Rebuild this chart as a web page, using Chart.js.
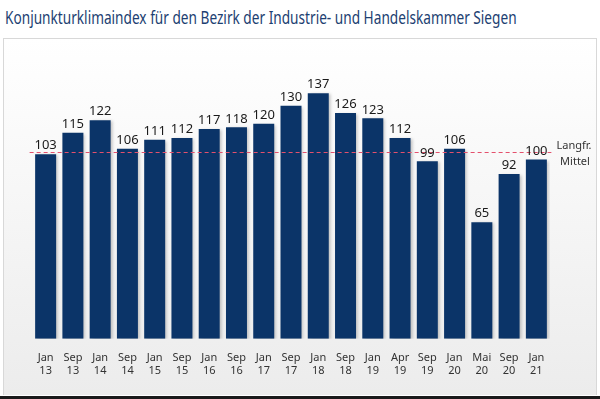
<!DOCTYPE html>
<html>
<head>
<meta charset="utf-8">
<script src="https://cdn.jsdelivr.net/npm/chart.js@4"></script>
<style>
  html, body { margin: 0; padding: 0; background: #fff; }
  #wrap { position: relative; width: 600px; height: 399px; overflow: hidden; }
  #title {
    position: absolute; left: 5px; top: 5px;
    font-family: "Noto Sans", sans-serif; font-size: 17.5px;
    color: #1d3f72; white-space: nowrap;
    transform: scaleX(0.78); transform-origin: left top;
  }
  #panel {
    position: absolute; left: 3px; top: 38px; width: 592px; height: 356px;
    border: 1px solid #d8d8d8; border-bottom: none;
    background: linear-gradient(#ffffff, #ececec);
  }
  #baseline { position: absolute; left: 0; top: 396px; width: 600px; height: 3px; background: #1a1a1a; }
  #chart { position: absolute; left: 0; top: 0; }
</style>
</head>
<body>
<div id="wrap">
  <div id="title">Konjunkturklimaindex für den Bezirk der Industrie- und Handelskammer Siegen</div>
  <div id="panel"></div>
  <div id="baseline"></div>
  <canvas id="chart" width="600" height="399"></canvas>
</div>
<script>
const months = ['Jan', 'Sep', 'Jan', 'Sep', 'Jan', 'Sep', 'Jan', 'Sep', 'Jan', 'Sep',
                'Jan', 'Sep', 'Jan', 'Apr', 'Sep', 'Jan', 'Mai', 'Sep', 'Jan'];
const years = ['13', '13', '14', '14', '15', '15', '16', '16', '17', '17',
               '18', '18', '19', '19', '19', '20', '20', '20', '21'];
const indexValues = [103, 115, 122, 106, 111, 112, 117, 118, 120, 130,
                     137, 126, 123, 112, 99, 106, 65, 92, 100];
const longTermMean = 104;

const labels = months.map((m, i) => [m, years[i]]);

// soft shadow behind the bars
const barShadow = {
    id: 'barShadow',
    beforeDatasetDraw(chart) {
        const ctx = chart.ctx;
        ctx.save();
        ctx.shadowColor = 'rgba(0,0,0,0.22)';
        ctx.shadowOffsetX = 2;
        ctx.shadowOffsetY = 1;
        ctx.shadowBlur = 3;
    },
    afterDatasetDraw(chart) {
        chart.ctx.restore();
    }
};

// labels on top of bars, dashed mean line and its caption
const extras = {
    id: 'extras',
    afterDatasetsDraw(chart) {
        const ctx = chart.ctx;
        const y = chart.scales.y;
        const meta = chart.getDatasetMeta(0);
        ctx.save();
        const my = Math.round(y.getPixelForValue(longTermMean)) + 0.5;
        ctx.strokeStyle = '#e4506c';
        ctx.lineWidth = 1;
        ctx.setLineDash([4, 3]);
        ctx.beginPath();
        ctx.moveTo(meta.data[0].x - 16, my);
        ctx.lineTo(meta.data[meta.data.length - 1].x + 15, my);
        ctx.stroke();
        ctx.setLineDash([]);

        ctx.font = '13px "Noto Sans", sans-serif';
        ctx.fillStyle = '#1a1a1a';
        ctx.textAlign = 'center';
        ctx.textBaseline = 'bottom';
        meta.data.forEach((bar, i) => {
            ctx.fillText(indexValues[i], bar.x, bar.y - 2);
        });

        ctx.font = '11px "Noto Sans", sans-serif';
        ctx.fillStyle = '#333';
        ctx.fillText('Langfr.', 574, my - 1);
        ctx.fillText('Mittel', 575, my + 15);
        ctx.restore();
    }
};

new Chart(document.getElementById('chart'), {
    type: 'bar',
    data: {
        labels: labels,
        datasets: [{
            data: indexValues,
            backgroundColor: '#0b3468',
            borderWidth: 0,
            categoryPercentage: 1,
            barPercentage: 0.77
        }]
    },
    options: {
        responsive: false,
        animation: false,
        layout: { padding: { left: 32, right: 50, top: 70, bottom: 17 } },
        plugins: { legend: { display: false }, tooltip: { enabled: false } },
        scales: {
            y: { display: false, min: 0, max: 150 },
            x: {
                grid: { display: false },
                border: { display: false },
                ticks: {
                    color: '#333',
                    font: { family: '"Noto Sans", sans-serif', size: 11, lineHeight: 1.15 },
                    padding: 5,
                    maxRotation: 0,
                    autoSkip: false
                }
            }
        }
    },
    plugins: [barShadow, extras]
});
</script>
</body>
</html>
